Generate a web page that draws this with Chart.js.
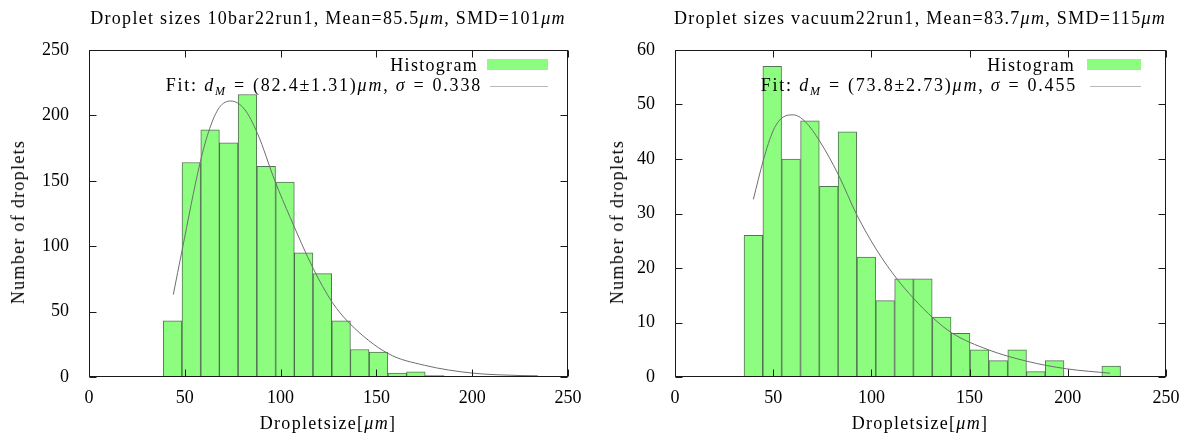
<!DOCTYPE html>
<html lang="en">
<head>
    <meta charset="UTF-8">
    <title>Droplet size histograms</title>
    <script src="https://cdn.jsdelivr.net/npm/chart.js/dist/chart.umd.min.js"></script>
    <style>
body{
    margin: 0;
    background: white;
    font-family: "Liberation Serif", serif;
    color: #000;
}
.page{
    position: relative;
    width: 1187px;
    height: 439px;
    overflow: hidden;
}
.box{
    position: absolute;
    top: 0;
    height: 439px;
}
.lbl{
    position: absolute;
    white-space: nowrap;
    font-size: 18px;
    letter-spacing: 1.3px;
    line-height: 1;
}
.fit{ letter-spacing: 1.8px; }
.ctr{ transform: translateX(-50%); }
.rgt{ transform: translateX(-100%); }
.ytitle{ transform: translate(-50%, -50%) rotate(-90deg); }
.eq{ margin: 0 7px; }
.swatch{
    position: absolute;
    background: #8cfd7f;
}
.sample{
    position: absolute;
    height: 1px;
    background: #b8b8b8;
}
sub{ font-size: 12px; vertical-align: -4px; letter-spacing: 0; margin-right: 2px; }
    </style>
</head>
<body>
<div class="page">
    <div class="box" style="left:0;width:593px"><canvas id="left"></canvas></div>
    <div class="box" style="left:593px;width:594px"><canvas id="right"></canvas></div>

    <!-- left panel text -->
    <div class="lbl ctr" style="left:328px;top:9px">Droplet sizes 10bar22run1, Mean=85.5<i>μm</i>, SMD=101<i>μm</i></div>
    <div class="lbl ytitle" style="left:18px;top:222px">Number of droplets</div>
    <div class="lbl ctr" style="left:328px;top:414px">Dropletsize[<i>μm</i>]</div>
    <div class="lbl rgt" style="left:478px;top:56px">Histogram</div>
    <div class="swatch" style="left:487px;top:59px;width:61px;height:11px"></div>
    <div class="lbl fit rgt" style="left:482px;top:76px">Fit: <i>d</i><sub><i>M</i></sub><span class="eq">=</span>(82.4±1.31)<i>μm</i>, <i>σ</i><span class="eq">=</span>0.338</div>
    <div class="sample" style="left:490px;top:86px;width:58px"></div>

    <!-- right panel text -->
    <div class="lbl ctr" style="left:920px;top:9px">Droplet sizes vacuum22run1, Mean=83.7<i>μm</i>, SMD=115<i>μm</i></div>
    <div class="lbl ytitle" style="left:617px;top:222px">Number of droplets</div>
    <div class="lbl ctr" style="left:920px;top:414px">Dropletsize[<i>μm</i>]</div>
    <div class="lbl rgt" style="left:1075px;top:56px">Histogram</div>
    <div class="swatch" style="left:1087px;top:59px;width:54px;height:11px"></div>
    <div class="lbl fit rgt" style="left:1077px;top:76px">Fit: <i>d</i><sub><i>M</i></sub><span class="eq">=</span>(73.8±2.73)<i>μm</i>, <i>σ</i><span class="eq">=</span>0.455</div>
    <div class="sample" style="left:1090px;top:86px;width:51px"></div>
</div>

<script>
// ---- 10bar22run1 ----
const binsA = [43.6, 53.4, 63.2, 72.9, 82.7, 92.5, 102.3, 112.0, 121.8, 131.6,
               141.3, 151.1, 160.9, 170.6, 180.4, 190.2, 200.0, 209.7, 219.5, 229.3];
const countsA = [43, 164, 189, 179, 216, 161, 149, 95, 79, 43,
                 21, 19, 3, 4, 1, 0, 0, 0, 0, 1];
// fit curve
const fitXA = [44, 48.6, 58, 63, 68, 74, 81, 88, 97, 105, 117, 127, 136, 156, 175, 200, 227, 234];
const fitYA = [63, 97, 164, 190, 206, 211, 205, 186, 150, 122, 83, 57, 41, 18, 9, 3, 1, 0.6];
const yTicksA = [0, 50, 100, 150, 200, 250];

// ---- vacuum22run1 ----
const binsB = [39.9, 49.5, 59.1, 68.7, 78.3, 87.8, 97.4, 107.0, 116.6, 126.2,
               135.8, 145.4, 155.0, 164.6, 174.2, 183.7, 193.3, 202.9, 212.5, 222.1];
const countsB = [26, 57, 40, 47, 35, 45, 22, 14, 18, 18,
                 11, 8, 5, 3, 5, 1, 3, 0, 0, 2];
const fitXB = [39.9, 45, 50.1, 55.1, 60.2, 66.2, 73.8, 83.2, 92.5, 102.7, 113, 121.3, 131.5, 140.9, 159.5, 179.1, 199.4, 221.5];
const fitYB = [32.6, 39.8, 45.3, 47.7, 48.1, 46.9, 43.2, 37.1, 29.8, 23.3, 18, 14.5, 10.8, 8.1, 5.0, 2.9, 1.5, 0.7];
const yTicksB = [0, 10, 20, 30, 40, 50, 60];

const xTicks = [0, 50, 100, 150, 200, 250];

// box around plot + gnuplot style inner ticks on all sides
const frame = {
    id: 'frame',
    afterDatasetsDraw(chart) {
        const { ctx, chartArea: a, scales } = chart;
        const L = Math.round(a.left) + 0.5, R = Math.round(a.right) - 0.5;
        const T = Math.round(a.top) + 0.5, B = Math.round(a.bottom) - 0.5;
        ctx.save();
        ctx.strokeStyle = '#1a1a1a';
        ctx.lineWidth = 1;
        ctx.beginPath();
        scales.x.ticks.forEach(t => {
            const p = Math.round(scales.x.getPixelForValue(t.value)) + 0.5;
            ctx.moveTo(p, B); ctx.lineTo(p, B - 7);
            ctx.moveTo(p, T); ctx.lineTo(p, T + 7);
        });
        scales.y.ticks.forEach(t => {
            const p = Math.round(scales.y.getPixelForValue(t.value)) + 0.5;
            ctx.moveTo(L, p); ctx.lineTo(L + 7, p);
            ctx.moveTo(R, p); ctx.lineTo(R - 7, p);
        });
        ctx.stroke();
        ctx.strokeRect(L, T, R - L, B - T);
        ctx.restore();
    }
};

function makeChart(id, bins, counts, fitX, fitY, yTicks, yWidth, padRight) {
    const tickFont = { family: 'Liberation Serif', size: 18 };
    return new Chart(document.getElementById(id), {
        type: 'bar',
        data: {
            datasets: [{
                type: 'line',
                data: fitX.map((x, i) => ({ x: x, y: fitY[i] })),
                borderColor: '#6e6e6e',
                borderWidth: 1,
                pointRadius: 0,
                fill: false,
                cubicInterpolationMode: 'monotone',
                order: 0
            }, {
                data: bins.map((x, i) => ({ x: x, y: counts[i] })),
                backgroundColor: '#8cfd7f',
                borderColor: 'rgba(45,80,45,0.8)',
                borderWidth: 1,
                borderSkipped: false,
                barPercentage: 1,
                categoryPercentage: 1,
                order: 1
            }]
        },
        options: {
            responsive: true,
            maintainAspectRatio: false,
            animation: false,
            events: [],
            layout: { padding: { left: 0, right: padRight, top: 50, bottom: 0 } },
            plugins: { legend: { display: false }, tooltip: { enabled: false } },
            scales: {
                x: {
                    type: 'linear',
                    min: 0, max: 250,
                    offset: false,
                    afterBuildTicks: s => { s.ticks = xTicks.map(v => ({ value: v })); },
                    afterFit: s => { s.height = 62; },
                    grid: { display: false, offset: false },
                    border: { display: false },
                    ticks: { color: '#000', font: tickFont, padding: 2, maxRotation: 0 }
                },
                y: {
                    min: yTicks[0], max: yTicks[yTicks.length - 1],
                    afterBuildTicks: s => { s.ticks = yTicks.map(v => ({ value: v })); },
                    afterFit: s => { s.width = yWidth; },
                    grid: { display: false },
                    border: { display: false },
                    ticks: { color: '#000', font: tickFont, padding: 12 }
                }
            }
        },
        plugins: [frame]
    });
}

makeChart('left', binsA, countsA, fitXA, fitYA, yTicksA, 89, 25);
makeChart('right', binsB, countsB, fitXB, fitYB, yTicksB, 82, 21);
</script>
</body>
</html>
